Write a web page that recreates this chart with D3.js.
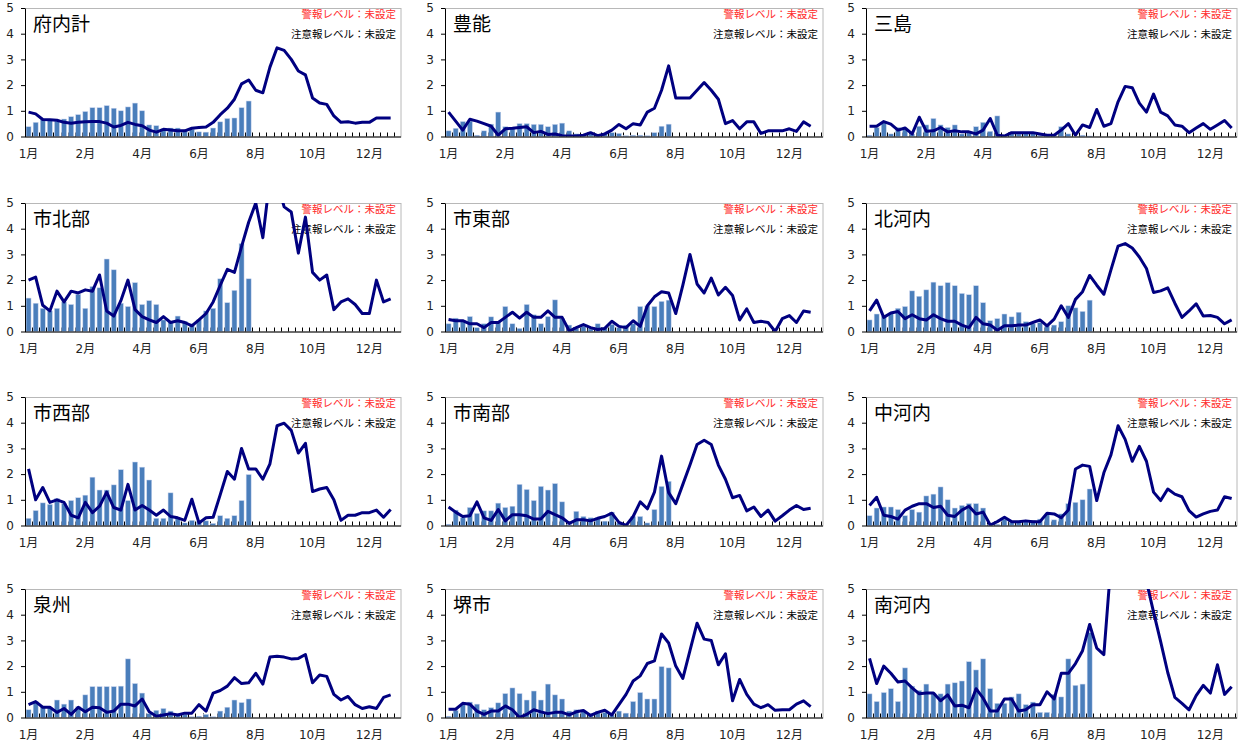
<!DOCTYPE html>
<html><head><meta charset="utf-8">
<script src="https://cdn.jsdelivr.net/npm/d3@7"></script>
<style>body{margin:0;background:#fff}svg{display:block}</style>
</head><body><svg id="c" width="1247" height="747"></svg>
<script>
const regionNames = ["府内計","豊能","三島","市北部","市東部","北河内","市西部","市南部","中河内","泉州","堺市","南河内"];
const monthLabels = ["1月","2月","4月","6月","8月","10月","12月"];
const monthLabelWeeks = [1,9,17,25,33,41,49];
const weekCount = 53;
const yTicks = [0,1,2,3,4,5];
const alarmLabel = "警報レベル：未設定";
const watchLabel = "注意報レベル：未設定";

// current year (bars) and previous year (line) per region
const barsFunai = [0.38,0.55,0.65,0.63,0.6,0.68,0.77,0.85,0.97,1.12,1.12,1.2,1.1,1.0,1.15,1.3,1.0,0.45,0.42,0.3,0.33,0.33,0.25,0.28,0.18,0.17,0.33,0.57,0.7,0.72,1.12,1.38];
const lineFunai = [0.95,0.88,0.66,0.65,0.63,0.55,0.52,0.55,0.57,0.58,0.58,0.52,0.37,0.43,0.55,0.47,0.42,0.25,0.17,0.28,0.25,0.22,0.22,0.32,0.35,0.37,0.55,0.85,1.1,1.45,2.05,2.2,1.8,1.7,2.7,3.45,3.35,3.0,2.55,2.4,1.5,1.3,1.25,0.8,0.55,0.57,0.52,0.55,0.55,0.72,0.72,0.72];
const barsToyono = [0.22,0.32,0.58,0.6,0.05,0.22,0.48,0.95,0.38,0.33,0.5,0.5,0.47,0.47,0.38,0.47,0.52,0.22,0.1,0.05,0.12,0.05,0.1,0.15,0.12,0.03,0.05,0.05,0.03,0.15,0.4,0.48];
const lineToyono = [0.95,0.6,0.25,0.67,0.6,0.5,0.4,0.05,0.3,0.32,0.35,0.38,0.15,0.2,0.08,0.1,0.03,0.02,0.02,0.05,0.15,0.03,0.1,0.25,0.47,0.3,0.5,0.45,0.95,1.1,1.8,2.75,1.5,1.5,1.5,1.8,2.1,1.8,1.45,0.5,0.62,0.3,0.57,0.57,0.12,0.22,0.22,0.22,0.3,0.2,0.57,0.4];
const barsMishima = [0.05,0.35,0.55,0.1,0.35,0.3,0.1,0.4,0.45,0.7,0.45,0.35,0.45,0.1,0.15,0.38,0.55,0.2,0.8,0.05,0.12,0.1,0.15,0.15,0.05,0.02,0.05,0.38,0.1,0,0.05,0.02];
const lineMishima = [0.4,0.4,0.58,0.48,0.25,0.33,0.1,0.75,0.2,0.22,0.35,0.18,0.22,0.18,0.18,0.1,0.25,0.7,0.05,0.02,0.15,0.15,0.15,0.15,0.1,0.05,0.05,0.25,0.5,0.05,0.45,0.35,1.05,0.4,0.5,1.35,1.95,1.9,1.3,0.95,1.65,0.95,0.8,0.45,0.4,0.15,0.33,0.5,0.28,0.45,0.62,0.33];
const barsShihokubu = [1.3,1.1,0.9,0.8,0.9,1.15,1.05,1.45,0.9,1.75,1.7,2.82,2.4,1.1,0.97,1.9,1.05,1.2,1.05,0.45,0.4,0.6,0.4,0.3,0.45,0.8,0.9,2.05,1.12,1.6,3.42,2.05];
const lineShihokubu = [2.0,2.12,1.02,0.8,1.57,1.15,1.57,1.5,1.62,1.57,2.2,0.8,0.6,1.2,2.0,0.85,0.58,0.45,0.35,0.58,0.35,0.42,0.35,0.22,0.45,0.7,1.15,1.8,2.42,2.3,3.3,4.25,5.0,3.65,6.0,5.8,4.85,4.65,3.05,4.45,2.3,2.0,2.2,0.85,1.15,1.27,1.05,0.7,0.7,2.0,1.15,1.27];
const barsShitobu = [0.3,0.52,0.42,0.58,0.15,0.3,0.57,0.35,0.97,0.3,0.12,1.05,0.65,0.3,0.58,1.23,0.5,0.25,0.12,0.2,0.1,0.3,0.15,0.28,0.15,0.25,0.3,0.97,1.0,0.97,1.17,1.22];
const lineShitobu = [0.47,0.42,0.42,0.3,0.3,0.15,0.35,0.35,0.55,0.75,0.52,0.75,0.55,0.55,0.8,0.55,0.55,0.02,0.15,0.27,0.15,0.08,0.12,0.4,0.2,0.15,0.42,0.2,1.0,1.35,1.55,1.5,0.7,1.8,3.0,1.85,1.5,2.08,1.42,1.72,1.4,0.45,0.88,0.35,0.4,0.35,0.0,0.5,0.62,0.35,0.8,0.75];
const barsKitakawachi = [0.45,0.68,0.6,0.7,0.9,0.97,1.58,1.37,1.62,1.92,1.78,1.9,1.78,1.48,1.43,1.78,1.12,0.42,0.5,0.68,0.57,0.75,0.38,0.3,0.35,0.22,0.25,0.38,1.0,0.92,0.78,1.22];
const lineKitakawachi = [0.8,1.22,0.55,0.72,0.78,0.5,0.65,0.5,0.45,0.65,0.5,0.4,0.4,0.25,0.15,0.55,0.3,0.25,0.05,0.22,0.22,0.25,0.25,0.35,0.45,0.22,0.48,1.0,0.55,1.25,1.55,2.18,1.8,1.45,2.4,3.32,3.42,3.25,2.9,2.45,1.52,1.58,1.7,1.1,0.55,0.8,1.08,0.6,0.62,0.55,0.3,0.45];
const barsShiseibu = [0.28,0.58,0.88,0.82,1.05,0.85,0.97,1.08,1.18,1.88,1.38,1.38,1.58,2.17,0.97,2.47,2.27,1.77,0.28,0.28,1.27,0.3,0.1,0.2,0.15,0.18,0.08,0.38,0.28,0.38,0.97,1.98];
const lineShiseibu = [2.2,1.0,1.48,0.9,1.0,0.9,0.4,0.3,0.9,0.5,0.75,1.3,0.7,0.6,1.6,0.6,0.78,0.6,0.4,0.6,0.35,0.3,0.2,1.02,0.1,0.3,0.32,1.2,2.1,1.8,3.0,2.2,2.2,1.8,2.4,3.88,3.98,3.7,2.82,3.2,1.32,1.42,1.48,1.0,0.2,0.4,0.4,0.5,0.5,0.6,0.32,0.62];
const barsShinanbu = [0.05,0.6,0.3,0.7,0.47,0.57,0.57,0.87,0.7,0.75,1.6,1.4,0.97,1.52,1.38,1.63,0.92,0.05,0.55,0.35,0.3,0.3,0.17,0.52,0.1,0.05,0.35,0.35,0.1,0.62,1.52,1.72];
const lineShinanbu = [0.72,0.52,0.35,0.38,0.92,0.3,0.2,0.62,0.18,0.42,0.42,0.38,0.25,0.25,0.55,0.42,0.3,0.08,0.22,0.22,0.18,0.28,0.35,0.48,0.12,0.0,0.35,0.92,0.65,1.3,2.7,1.28,0.85,1.6,2.35,3.15,3.32,3.15,2.35,1.8,1.08,1.17,0.57,0.72,0.35,0.6,0.17,0.38,0.6,0.78,0.62,0.67];
const barsNakakawachi = [0.38,0.68,0.72,0.72,0.62,0.38,0.62,0.52,1.15,1.22,1.5,1.0,0.68,0.78,0.85,0.85,0.68,0.05,0.05,0.25,0.12,0.15,0.15,0.2,0.25,0.42,0.22,0.45,0.85,0.9,1.0,1.42];
const lineNakakawachi = [0.78,1.1,0.4,0.35,0.25,0.6,0.75,0.85,0.85,0.7,0.75,0.4,0.35,0.6,0.75,0.45,0.52,0.02,0.15,0.32,0.15,0.15,0.18,0.15,0.15,0.48,0.45,0.3,0.6,2.2,2.35,2.3,0.97,2.05,2.75,3.88,3.35,2.5,3.08,2.5,1.3,0.97,1.42,1.22,1.12,0.58,0.33,0.45,0.55,0.6,1.12,1.05];
const barsSenshu = [0.3,0.62,0.42,0.38,0.68,0.52,0.68,0.42,0.88,1.2,1.2,1.2,1.2,1.22,2.28,1.32,0.95,0.15,0.28,0.35,0.25,0.15,0.12,0.03,0.05,0.12,0.03,0.25,0.4,0.68,0.58,0.72];
const lineSenshu = [0.5,0.62,0.4,0.4,0.2,0.35,0.12,0.4,0.22,0.4,0.38,0.2,0.25,0.52,0.52,0.45,0.72,0.22,0.05,0.1,0.15,0.1,0.17,0.17,0.5,0.25,0.95,1.05,1.22,1.55,1.32,1.35,1.72,1.3,2.35,2.38,2.35,2.28,2.3,2.45,1.35,1.65,1.6,0.9,0.68,0.82,0.5,0.35,0.42,0.35,0.78,0.88];
const barsSakai = [0.05,0.28,0.52,0.6,0.52,0.3,0.38,0.57,0.93,1.15,0.93,0.68,1.03,0.68,1.3,0.88,0.72,0.25,0.3,0.25,0.15,0.25,0.2,0.1,0.25,0.17,0.62,0.97,0.72,0.72,1.98,1.93];
const lineSakai = [0.32,0.32,0.55,0.52,0.25,0.12,0.25,0.25,0.45,0.3,0.0,0.12,0.3,0.22,0.15,0.2,0.2,0.1,0.22,0.27,0.08,0.2,0.28,0.1,0.5,0.9,1.42,1.62,2.1,2.2,3.25,2.9,2.0,1.52,2.6,3.67,3.05,3.0,2.05,2.48,0.65,1.48,0.9,0.52,0.38,0.5,0.28,0.3,0.3,0.52,0.65,0.42];
const barsMinamikawachi = [0.92,0.62,0.97,1.12,0.62,1.93,1.22,1.05,1.3,0.95,0.92,1.3,1.35,1.42,2.17,1.85,2.28,1.12,0.55,0.55,0.8,0.92,0.5,0.6,0.2,0.2,0.9,0.8,2.28,1.25,1.3,3.3];
const lineMinamikawachi = [2.3,1.32,2.0,1.72,1.38,1.42,1.15,0.92,0.95,0.95,0.65,0.88,0.45,0.48,0.38,1.12,0.75,0.25,0.25,0.72,0.72,0.25,0.3,0.5,0.5,1.0,0.72,1.72,1.72,2.1,2.6,3.62,2.7,2.45,6.0,8.0,8.5,8.0,6.5,5.3,4.1,2.95,1.75,0.78,0.55,0.3,0.85,1.25,0.95,2.05,0.9,1.2];

const barSeries = [barsFunai,barsToyono,barsMishima,barsShihokubu,barsShitobu,barsKitakawachi,barsShiseibu,barsShinanbu,barsNakakawachi,barsSenshu,barsSakai,barsMinamikawachi];
const lineSeries = [lineFunai,lineToyono,lineMishima,lineShihokubu,lineShitobu,lineKitakawachi,lineShiseibu,lineShinanbu,lineNakakawachi,lineSenshu,lineSakai,lineMinamikawachi];

// layout
const colLeft = [25, 445, 866], colRight = [401, 823, 1237];
const rowTop = [8, 203, 397, 589];
const plotH = 128.5, step = 7.1;
const numFont = "'DejaVu Sans', 'Noto Sans CJK JP', sans-serif";
const jpFont = "'Noto Sans CJK JP', sans-serif";

const svg = d3.select("#c");
regionNames.forEach((name, k) => {
  const r = Math.floor(k / 3), c = k % 3;
  const L = colLeft[c], T = rowTop[r], W = colRight[c] - L;
  const g = svg.append("g").attr("transform", `translate(${L},${T})`);
  const x = d3.scaleBand().domain(d3.range(weekCount)).range([0, weekCount * step]).paddingInner(0.3).paddingOuter(0.15);
  const y = d3.scaleLinear().domain([0, 5]).range([plotH, 0]);
  const cx = i => x(i) + x.bandwidth() / 2;

  const clipId = "clip" + k;
  g.append("clipPath").attr("id", clipId).append("rect").attr("x", 0).attr("y", 0).attr("width", W).attr("height", plotH);

  // frame
  g.append("rect").attr("x", 0.5).attr("y", 0.5).attr("width", W - 0.5).attr("height", plotH)
    .attr("fill", "none").attr("stroke", "#b8b8b8").attr("stroke-width", 1);

  // category tick marks
  g.append("g").selectAll("line").data(d3.range(weekCount + 1).filter(j => j * step <= W))
    .join("line").attr("x1", j => Math.round(j * step) + 0.5).attr("x2", j => Math.round(j * step) + 0.5)
    .attr("y1", plotH).attr("y2", plotH - 4).attr("stroke", "#000").attr("stroke-width", 1);

  // texts
  g.append("text").attr("x", 8).attr("y", 23).text(name)
    .attr("font-family", jpFont).attr("font-size", 19).attr("fill", "#000");
  g.append("text").attr("x", W - 5).attr("y", 10).attr("text-anchor", "end").text(alarmLabel)
    .attr("font-family", jpFont).attr("font-size", 10.5).attr("fill", "#ff2a2a");
  g.append("text").attr("x", W - 5).attr("y", 30).attr("text-anchor", "end").text(watchLabel)
    .attr("font-family", jpFont).attr("font-size", 10.5).attr("fill", "#000");

  // bars
  g.append("g").selectAll("rect").data(barSeries[k]).join("rect")
    .attr("x", (d, i) => x(i)).attr("width", x.bandwidth())
    .attr("y", d => y(d)).attr("height", d => plotH - y(d))
    .attr("fill", "#4a7ebb").attr("stroke", "#c8d3ee").attr("stroke-width", 0.5);

  // line
  g.append("path").datum(lineSeries[k]).attr("clip-path", `url(#${clipId})`)
    .attr("d", d3.line().x((d, i) => cx(i)).y(d => y(d)))
    .attr("fill", "none").attr("stroke", "#000080").attr("stroke-width", 3)
    .attr("stroke-linejoin", "round").attr("stroke-linecap", "butt");

  // y axis
  const ya = g.append("g").call(d3.axisLeft(y).tickValues(yTicks).tickSize(4).tickSizeOuter(0).tickPadding(7).tickFormat(d3.format("d")));
  ya.select(".domain").attr("stroke", "#000");
  ya.selectAll("text").attr("font-family", numFont).attr("font-size", 12).attr("fill", "#222");

  // x axis line and month labels
  g.append("line").attr("x1", 0).attr("x2", W).attr("y1", plotH + 0.5).attr("y2", plotH + 0.5).attr("stroke", "#000");
  const xa = g.append("g").attr("transform", `translate(0,${plotH})`)
    .call(d3.axisBottom(x).tickValues(monthLabelWeeks.map(w => w - 1)).tickSize(0).tickPadding(13)
      .tickFormat((d, i) => monthLabels[i]));
  xa.select(".domain").remove();
  xa.selectAll("text").attr("font-family", numFont).attr("font-size", 12).attr("fill", "#222");
});
</script>
</body></html>
